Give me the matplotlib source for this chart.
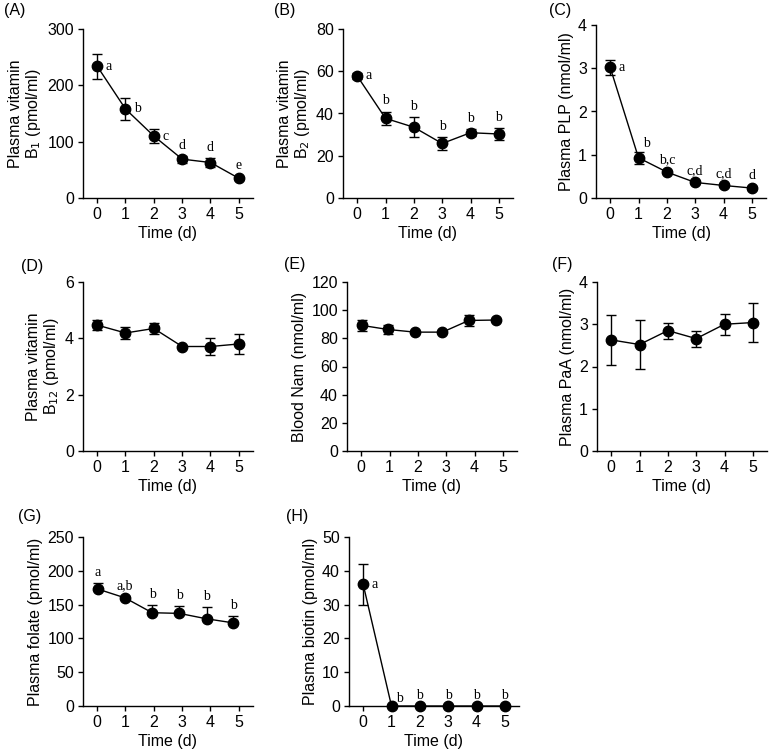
import matplotlib
matplotlib.use("Agg")
import matplotlib.pyplot as plt

plt.rcParams['font.family'] = ['Liberation Sans', 'DejaVu Sans']

days = [0, 1, 2, 3, 4, 5]

# Panel data (mean, error)
b1_mean = [234, 158, 110, 69, 63, 35]
b1_err = [22, 19, 12, 6, 8, 3]
b1_sig = ['a', 'b', 'c', 'd', 'd', 'e']

b2_mean = [57.8, 37.7, 33.5, 25.8, 30.9, 30.3]
b2_err = [1.5, 3.2, 4.7, 3.2, 1.6, 2.7]
b2_sig = ['a', 'b', 'b', 'b', 'b', 'b']

plp_mean = [3.02, 0.93, 0.60, 0.36, 0.29, 0.23]
plp_err = [0.17, 0.14, 0.03, 0.03, 0.03, 0.04]
plp_sig = ['a', 'b', 'b,c', 'c,d', 'c,d', 'd']

b12_mean = [4.47, 4.19, 4.35, 3.71, 3.71, 3.80]
b12_err = [0.19, 0.20, 0.21, 0.03, 0.31, 0.34]

nam_x = [0.02, 0.94, 1.90, 2.87, 3.80, 4.76]
nam_mean = [89.2, 86.3, 84.4, 84.4, 92.7, 93.0]
nam_err = [4.0, 3.3, 0.8, 0.8, 3.6, 1.0]

paa_mean = [2.63, 2.52, 2.85, 2.66, 3.00, 3.04]
paa_err = [0.60, 0.57, 0.19, 0.19, 0.25, 0.47]

folate_x = [0.02, 0.98, 1.94, 2.90, 3.86, 4.80]
folate_mean = [173, 160, 138, 137, 129, 123]
folate_err = [9, 2, 11, 11, 17, 10]
folate_sig = ['a', 'a,b', 'b', 'b', 'b', 'b']

biotin_mean = [36.0, 0, 0, 0, 0, 0]
biotin_err = [6.0, 0, 0, 0, 0, 0]
biotin_sig = ['a', 'b', 'b', 'b', 'b', 'b']

W, H = 769, 755
FS = 11.5
SIG_FS = 10
fig = plt.figure(figsize=(W / 100, H / 100), dpi=100)


def make_ax(left_px, top_px, bottom_px, width_px=170):
    return fig.add_axes([left_px / W, 1 - bottom_px / H, width_px / W,
                         (bottom_px - top_px) / H])


def panel(ax, x, mean, err, ylim, yticks, ylabel, letter, letter_pos,
          sig=None, sig_pos=None, upper_only=False):
    yerr = [[0] * len(err), err] if upper_only else err
    ax.errorbar(x, mean, yerr=yerr, fmt='-o', color='black', ms=7.5,
                lw=1.0, elinewidth=1.0, capsize=3.5, capthick=1.0,
                clip_on=False, zorder=3)
    ax.set_xlim(-0.5, 5.5)
    ax.set_ylim(*ylim)
    ax.set_yticks(yticks)
    ax.set_xticks(days)
    ax.spines['top'].set_visible(False)
    ax.spines['right'].set_visible(False)
    for s in ('left', 'bottom'):
        ax.spines[s].set_linewidth(1.0)
    ax.tick_params(direction='out', length=3.5, width=1.0, labelsize=FS,
                   pad=3)
    ax.set_xlabel('Time (d)', fontsize=FS, labelpad=3)
    ax.set_ylabel(ylabel, fontsize=FS, labelpad=3, linespacing=1.05)
    fig.text(letter_pos[0] / W, 1 - letter_pos[1] / H, letter,
             fontsize=FS, ha='center', va='center')
    if sig:
        for i, (xi, m, e, s) in enumerate(zip(x, mean, err, sig)):
            pos = sig_pos[i]
            if pos == 'right':
                ax.annotate(s, (xi, m), xytext=(6, 0),
                            textcoords='offset points', ha='left',
                            va='center', fontsize=SIG_FS,
                            family='Liberation Serif')
            elif pos == 'upright':
                ax.annotate(s, (xi, m + e), xytext=(3, 1),
                            textcoords='offset points', ha='left',
                            va='bottom', fontsize=SIG_FS,
                            family='Liberation Serif')
            else:
                ax.annotate(s, (xi, m + e), xytext=(0, 3),
                            textcoords='offset points', ha='center',
                            va='bottom', fontsize=SIG_FS,
                            family='Liberation Serif')


# Row 1
axA = make_ax(83, 29, 198)
panel(axA, days, b1_mean, b1_err, (0, 300), [0, 100, 200, 300],
      'Plasma vitamin\nB$_1$ (pmol/ml)', '(A)', (15, 11), b1_sig,
      ['right', 'right', 'right', 'above', 'above', 'above'])

axB = make_ax(343, 29, 198)
panel(axB, days, b2_mean, b2_err, (0, 80), [0, 20, 40, 60, 80],
      'Plasma vitamin\nB$_2$ (pmol/ml)', '(B)', (285, 11), b2_sig,
      ['right', 'above', 'above', 'above', 'above', 'above'])

axC = make_ax(596, 25, 198)
panel(axC, days, plp_mean, plp_err, (0, 4), [0, 1, 2, 3, 4],
      'Plasma PLP (nmol/ml)', '(C)', (560, 11), plp_sig,
      ['right', 'upright', 'above', 'above', 'above', 'above'])

# Row 2
axD = make_ax(83, 282, 451)
panel(axD, days, b12_mean, b12_err, (0, 6), [0, 2, 4, 6],
      'Plasma vitamin\nB$_{12}$ (pmol/ml)', '(D)', (32, 266))

axE = make_ax(347, 282, 451)
panel(axE, nam_x, nam_mean, nam_err, (0, 120),
      [0, 20, 40, 60, 80, 100, 120], 'Blood Nam (nmol/ml)', '(E)',
      (295, 265))

axF = make_ax(597, 282, 451)
panel(axF, days, paa_mean, paa_err, (0, 4), [0, 1, 2, 3, 4],
      'Plasma PaA (nmol/ml)', '(F)', (562, 265))

# Row 3
axG = make_ax(83, 537, 706)
panel(axG, folate_x, folate_mean, folate_err, (0, 250),
      [0, 50, 100, 150, 200, 250], 'Plasma folate (pmol/ml)', '(G)',
      (30, 517), folate_sig, ['above'] * 6, upper_only=True)

axH = make_ax(349, 537, 706)
panel(axH, days, biotin_mean, biotin_err, (0, 50),
      [0, 10, 20, 30, 40, 50], 'Plasma biotin (pmol/ml)', '(H)',
      (297, 517), biotin_sig,
      ['right', 'upright', 'above', 'above', 'above', 'above'])

fig.savefig('out.png', dpi=100)
